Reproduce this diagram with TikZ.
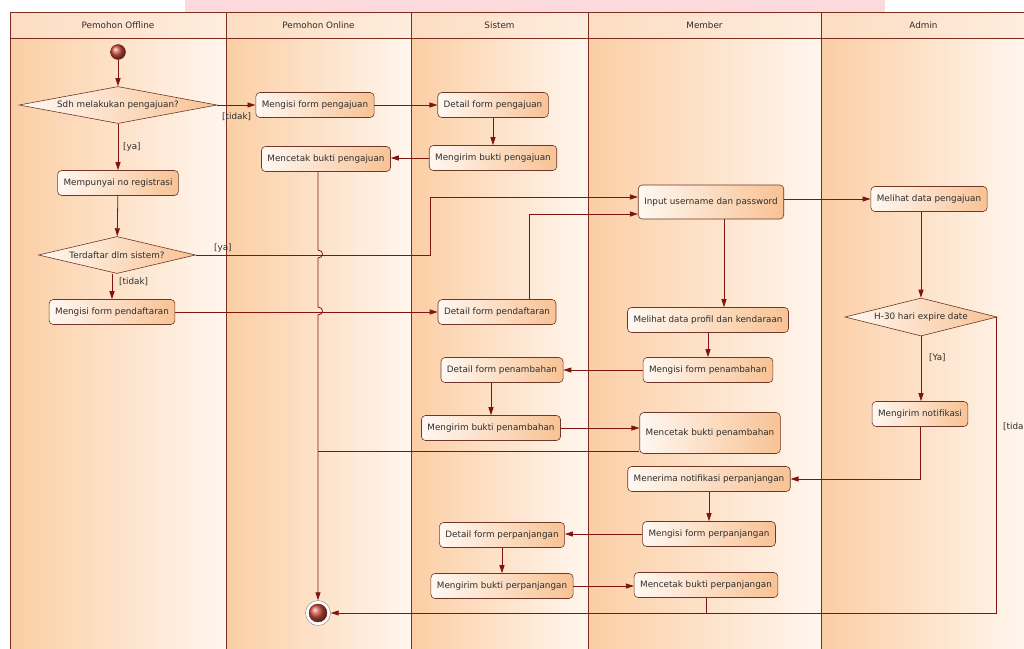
\documentclass[tikz,border=0pt]{standalone}
\usepackage{fontspec}
\setmainfont{DejaVu Sans}
\usetikzlibrary{arrows.meta,shapes.geometric,positioning}
\definecolor{flowred}{RGB}{128,20,16}
\definecolor{lanebrd}{RGB}{125,45,30}
\definecolor{lanedark}{RGB}{251,206,164}
\definecolor{lanelight}{RGB}{255,246,238}
\definecolor{headfill}{RGB}{253,221,194}
\definecolor{boxbrd}{RGB}{110,55,40}
\definecolor{boxlight}{RGB}{255,248,242}
\definecolor{boxdark}{RGB}{248,194,148}
\definecolor{txt}{RGB}{45,45,45}
\definecolor{bandpink}{RGB}{252,217,220}
\definecolor{ballred}{RGB}{200,80,60}

\begin{document}
\begin{tikzpicture}[x=1pt,y=-1pt,node distance=53pt,
			font=\fontsize{8.8}{10}\selectfont,
			act node/.style = {rectangle,rounded corners=4pt,draw=boxbrd,line width=0.6pt,left color=boxlight,right color=boxdark,text=txt,inner xsep=6pt,minimum height=25pt},
			dec node/.style = {diamond,aspect=5,draw=boxbrd,line width=0.6pt,left color=boxlight,right color=boxdark,text=txt,inner sep=0pt},
			guard/.style = {text=txt,inner sep=1pt},
			flow/.style = {draw=flowred,line width=0.8pt,-{Triangle[length=8pt,width=5pt]}},
			joinline/.style = {draw=flowred,line width=0.8pt}]
			
			\useasboundingbox (0,0) rectangle (1024,648);
			\clip (0,0) rectangle (1024,648);
			\fill[bandpink] (185,0) rectangle (885,12);
			
			\foreach \xa/\xb/\lane in {10/226/Pemohon Offline,226/411/Pemohon Online,411/588/Sistem,588/821/Member,821/1026/Admin}{
				\shade[left color=lanedark,right color=lanelight] (\xa,38) rectangle (\xb,660);
				\shade[left color=headfill,right color=headfill!55!white] (\xa,12) rectangle (\xb,38);
				\draw[lanebrd,line width=0.8pt] (\xa,12) rectangle (\xb,660);
				\draw[lanebrd,line width=0.8pt] (\xa,38) -- (\xb,38);
				\node[text=txt] (h\xa) at ({(\xa+\xb)/2},25) {\lane};
			}
			
			\node[circle,draw=flowred,ball color=ballred,minimum size=15pt,inner sep=0pt] (1) at (118,52) {};
			\node[dec node,minimum width=198pt,minimum height=37pt] (2) at (118,105) {\makebox[0pt]{Sdh melakukan pengajuan?}};
			\node[act node] (3) at (315,105) {Mengisi form pengajuan};
			\node[act node] (4) at (493,105) {Detail form pengajuan};
			\node[act node] [below of = 4](5) {Mengirim bukti pengajuan};
			\node[act node] (6) at (326,159) {Mencetak bukti pengajuan};
			\node[act node] [below of = 2, node distance=78pt](7) {Mempunyai no registrasi};
			\node[dec node,minimum width=157pt,minimum height=37pt] (8) at (117,255) {\makebox[0pt]{Terdaftar dlm sistem?}};
			\node[act node] (9) at (112,312) {Mengisi form pendaftaran};
			
			\node[act node,minimum height=34pt] (10) at (711,202) {Input username dan password};
			\node[act node] (11) at (929,199) {Melihat data pengajuan};
			\node[act node] (12) at (497,312) {Detail form pendaftaran};
			\node[act node] (13) at (708,320) {Melihat data profil dan kendaraan};
			\node[dec node,minimum width=152pt,minimum height=38pt] (14) at (921,317) {\makebox[0pt]{H-30 hari expire date}};
			\node[act node] (15) at (708,370) {Mengisi form penambahan};
			\node[act node] (16) at (502,370) {Detail form penambahan};
			\node[act node] (17) at (491,428) {Mengirim bukti penambahan};
			\node[act node,minimum height=41pt] (18) at (710,433) {Mencetak bukti penambahan};
			\node[act node] (19) at (920,414) {Mengirim notifikasi};
			\node[act node] (20) at (709,479) {Menerima notifikasi perpanjangan};
			\node[act node] [below of = 20, node distance=55pt](21) {Mengisi form perpanjangan};
			\node[act node] (22) at (502,535) {Detail form perpanjangan};
			\node[act node] [below of = 22, node distance=51pt](23) {Mengirim bukti perpanjangan};
			\node[act node] (24) at (706,585) {Mencetak bukti perpanjangan};
			\node[circle,draw=gray,fill=white,minimum size=25pt,inner sep=0pt] (25) at (318,613) {};
			\shade[ball color=ballred,draw=flowred] (25.center) circle[radius=9pt];
			
			\node[guard,anchor=west] (g1) at (221,117) {[tidak]};
			\node[guard,anchor=west] (g2) at (122,147) {[ya]};
			\node[guard,anchor=west] (g3) at (213,248) {[ya]};
			\node[guard,anchor=west] (g4) at (118,282) {[tidak]};
			\node[guard,anchor=west] (g5) at (928,358) {[Ya]};
			\node[guard,anchor=west] (g6) at (1002,427) {[tidak]};
			
			\coordinate (a1) at (430,197);
			\coordinate (a2) at (529,214);
			\coordinate (j1) at (318,451);
			\coordinate (j2) at (996,613);
			
			\path (1) edge [flow] (2);
			\path (2.east) edge [flow] (3.west);
			\path (2.south) edge [flow] (7.north);
			\path (3) edge [flow] (4);
			\path (4.south -| 5) edge [flow] (5.north);
			\path (5.west) edge [flow] (5.west -| 6.east);
			\draw[flow] (6.south -| 25) -- (318,250) .. controls (324,250) and (324,258) .. (318,258)
				-- (318,307) .. controls (324,307) and (324,315) .. (318,315) -- (25.north);
			\path (7) edge [flow] (8);
			\draw[flow] (8.east) -| (a1) -- (a1 -| 10.west);
			\path (8.south -| 9) edge [flow] (9.north);
			\path (9) edge [flow] (12);
			\draw[flow] (12.north -| a2) -- (a2) -- (a2 -| 10.west);
			\path (10.east |- 11) edge [flow] (11.west);
			\path ([xshift=13pt]10.south) edge [flow] ([xshift=13pt]10.south |- 13.north);
			\path (13) edge [flow] (15);
			\path (15) edge [flow] (16);
			\path (16.south -| 17) edge [flow] (17.north);
			\path (17.east) edge [flow] (17.east -| 18.west);
			\draw[joinline] (j1 -| 18.west) -- (j1);
			\path (11.south -| 14) edge [flow] (14.north);
			\path (14.south) edge [flow] (14.south |- 19.north);
			\draw[flow] (14.east) -| (j2) -- (25.east);
			\draw[flow] (19.south) |- (20.east);
			\path (20) edge [flow] (21);
			\path (21.west) edge [flow] (21.west -| 22.east);
			\path (22) edge [flow] (23);
			\path (23.east) edge [flow] (23.east -| 24.west);
			\draw[joinline] (24.south) -- (24.south |- j2);
			
			\end{tikzpicture}
\end{document}
